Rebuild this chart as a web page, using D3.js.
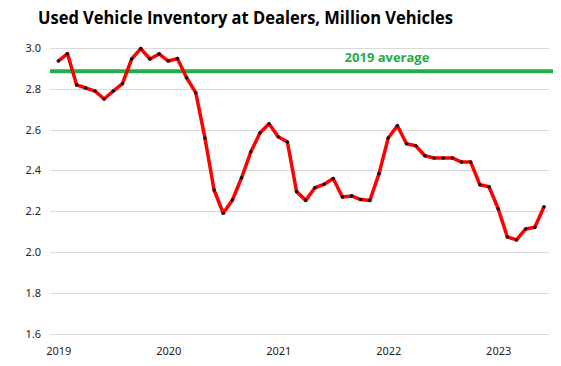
<!DOCTYPE html>
<html>
<head>
<meta charset="utf-8">
<script src="https://cdn.jsdelivr.net/npm/d3@7"></script>
<style>
  body { margin: 0; background: #fff; }
  svg { display: block; }
</style>
</head>
<body>
<svg id="chart" width="561" height="366"></svg>
<script>
// monthly values, Jan 2019 .. Jun 2023
var months = d3.range(54);
var inventory = [
  2.936, 2.972, 2.819, 2.804, 2.789, 2.750, 2.789, 2.825, 2.946, 2.997, 2.946, 2.971,
  2.936, 2.948, 2.854, 2.781, 2.559, 2.304, 2.190, 2.255, 2.364, 2.490, 2.583, 2.629,
  2.565, 2.539, 2.296, 2.253, 2.315, 2.332, 2.360, 2.270, 2.275, 2.257, 2.253, 2.384,
  2.559, 2.619, 2.531, 2.521, 2.472, 2.461, 2.461, 2.461, 2.441, 2.441, 2.330, 2.320,
  2.212, 2.074, 2.059, 2.113, 2.121, 2.222
];
var yearLabels = ["2019", "2020", "2021", "2022", "2023"];
var yTicks = [1.6, 1.8, 2.0, 2.2, 2.4, 2.6, 2.8, 3.0];
var avg2019 = 2.886;
var avgLabel = "2019 average";
var title = "Used Vehicle Inventory at Dealers, Million Vehicles";

var svg = d3.select("#chart");

var x = d3.scaleLinear().domain([0, 53]).range([58.3, 544]);
var y = d3.scaleLinear().domain([1.6, 3.0]).range([333.6, 48]);

// gridlines
svg.append("g")
  .selectAll("line")
  .data(yTicks)
  .enter().append("line")
  .attr("x1", 50).attr("x2", 549)
  .attr("y1", function(d) { return Math.round(y(d)) + 0.5; })
  .attr("y2", function(d) { return Math.round(y(d)) + 0.5; })
  .attr("stroke", "#d9d9d9")
  .attr("stroke-width", 1);

// y axis labels
var yAxis = svg.append("g")
  .attr("transform", "translate(41,0)")
  .call(d3.axisLeft(y).tickValues(yTicks).tickFormat(d3.format(".1f")).tickSize(0).tickPadding(0));
yAxis.select(".domain").remove();
yAxis.selectAll("text")
  .attr("font-family", "'Noto Sans', sans-serif")
  .attr("font-size", 11)
  .attr("fill", "#222");

// x axis labels (one per January)
var xAxis = svg.append("g")
  .attr("transform", "translate(0,347)")
  .call(d3.axisBottom(x).tickValues([0, 12, 24, 36, 48])
    .tickFormat(function(d, i) { return yearLabels[i]; })
    .tickSize(0).tickPadding(0));
xAxis.select(".domain").remove();
xAxis.selectAll("text")
  .attr("font-family", "'Noto Sans', sans-serif")
  .attr("font-size", 11)
  .attr("fill", "#222");

// 2019 average
svg.append("line")
  .attr("x1", 50).attr("x2", 553)
  .attr("y1", y(avg2019)).attr("y2", y(avg2019))
  .attr("stroke", "#22ac4b")
  .attr("stroke-width", 4);

svg.append("text")
  .attr("x", 387).attr("y", 62)
  .attr("text-anchor", "middle")
  .attr("font-family", "'Open Sans', sans-serif")
  .attr("font-weight", "bold")
  .attr("font-size", 13)
  .attr("fill", "#22ac4b")
  .text(avgLabel);

// series line
var line = d3.line()
  .x(function(d, i) { return x(months[i]); })
  .y(function(d) { return y(d); });

svg.append("path")
  .datum(inventory)
  .attr("d", line)
  .attr("fill", "none")
  .attr("stroke", "#ff0000")
  .attr("stroke-width", 3.5)
  .attr("stroke-linejoin", "round");

svg.append("g")
  .selectAll("circle")
  .data(inventory)
  .enter().append("circle")
  .attr("cx", function(d, i) { return x(months[i]); })
  .attr("cy", function(d) { return y(d); })
  .attr("r", 1.8)
  .attr("fill", "#111");

// title
svg.append("text")
  .attr("x", 38).attr("y", 24)
  .attr("font-family", "'Open Sans', sans-serif")
  .attr("font-weight", "bold")
  .attr("font-size", 17)
  .attr("textLength", 415)
  .attr("lengthAdjust", "spacingAndGlyphs")
  .attr("fill", "#000")
  .text(title);
</script>
</body>
</html>
